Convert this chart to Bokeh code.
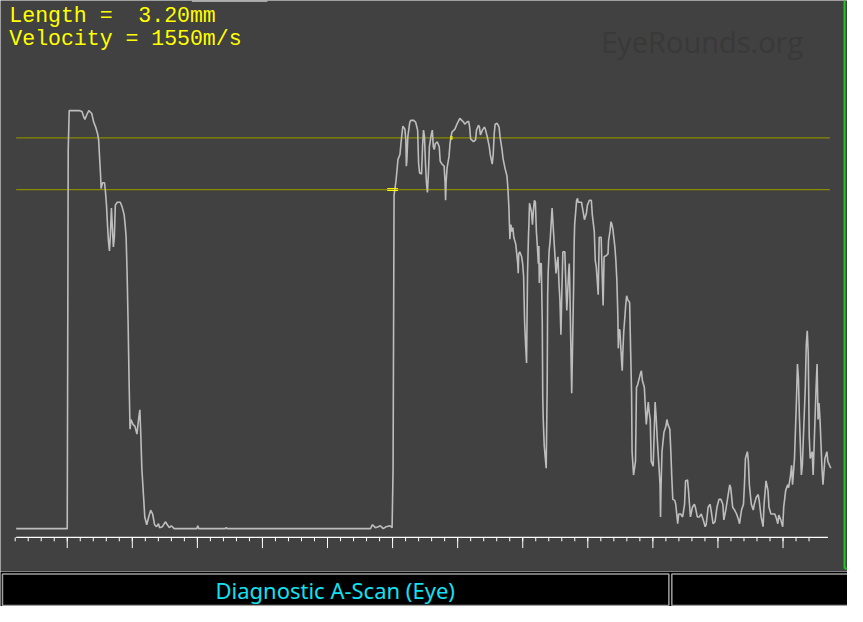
import numpy as np
from bokeh.plotting import figure
from bokeh.models import Range1d, Label, ColumnDataSource
from bokeh.layouts import column
from bokeh.embed import file_html
from bokeh.resources import INLINE

# ---- A-scan trace: sample index vs echo amplitude (counts, 429 = saturation) ----
sample = [0, 51, 52, 53, 54, 64, 67, 69, 70, 72, 74, 77, 79, 81, 83, 84, 85, 86, 86.5, 88, 90, 91, 92, 93, 94, 95, 96, 97, 98, 99,
          100, 101, 103, 106, 108, 110, 111, 112, 113, 114, 115, 116, 117, 119, 121, 123, 125, 126, 127, 128, 130, 131, 133, 135, 137, 139, 141, 143, 145, 146,
          149, 152, 154, 156, 158, 161, 184, 185, 186, 213, 214, 215, 361, 363, 366, 369, 371, 374, 377, 381, 383, 384, 385, 387, 389, 391, 392, 393, 394, 396,
          397, 397.5, 398, 399, 401, 402, 405, 407, 409, 410, 411, 413, 414, 415, 416, 417, 418, 419, 420, 421, 423, 424, 425, 426, 427, 429, 431, 432, 434, 436,
          437, 437.5, 438, 439, 441, 442, 443, 444, 446, 447, 449, 451, 452, 454, 456, 457, 459, 461, 462, 463, 466, 468, 469, 471, 472, 473, 475, 477, 478, 480,
          482, 483, 485, 486, 487, 488, 490, 492, 493, 495, 496, 498, 500, 501, 502, 503, 504, 505, 506, 507, 509, 511, 511.5, 512, 513, 515, 516, 517, 517.5, 518,
          519, 520, 521, 522, 522.5, 523, 525, 526, 527, 528, 529, 530, 531, 532, 532.5, 533, 534, 535, 536, 536.5, 537, 538, 540, 541, 541.5, 542, 543, 544, 545, 546,
          547, 549, 550, 551, 552, 553, 554, 555, 556, 557, 559, 560, 561, 562, 563, 563.5, 564, 565, 566, 567, 568, 568.5, 569, 571, 572, 572.5, 574, 576, 577, 579,
          581, 582, 584, 586, 587, 589, 590, 591, 592, 593, 594, 595, 596, 597, 598, 599, 601, 603, 603.5, 605, 606, 607, 608, 610, 611, 612, 613, 613.5, 614, 615,
          617, 617.5, 618, 619, 620, 621, 622, 623, 625, 626, 627, 627.5, 629, 631, 632, 633, 636, 637, 638, 640, 641, 642, 643, 644, 645, 646, 647, 649, 651, 652,
          653, 655, 656, 656.5, 657, 658, 660, 662, 663, 664, 666, 667, 668, 669, 671, 672, 674, 675, 677, 679, 681, 682, 684, 685, 686, 687, 689, 691, 692, 694,
          696, 698, 700, 702, 703, 705, 707, 708, 710, 712, 714, 716, 718, 720, 721, 723, 725, 727, 728, 730, 732, 734, 736, 737, 739, 741, 742, 743, 745, 746,
          747, 749, 751, 752, 754, 756, 757, 759, 761, 762, 764, 766, 767, 769, 771, 773, 775, 776, 777, 779, 781, 782, 784, 786, 787, 789, 790, 791, 793, 794,
          795, 796, 797, 798, 800, 801, 802, 804, 805, 806, 807, 808, 809, 811, 812, 813, 815, 816, 817, 818, 819, 821, 822, 824, 826, 827, 830]
amplitude = [0, 0, 0, 389, 429, 429, 428, 422, 420, 425, 429, 426, 417, 412, 405, 399, 380, 362, 349, 355, 355, 345, 332, 312, 295, 285, 302, 329, 309, 289,
             299, 332, 335, 335, 330, 322, 312, 299, 262, 212, 152, 102, 112, 107, 105, 97, 115, 122, 95, 62, 29, 12, 4, 12, 19, 15, 4, 2, 5, 1,
             2, 7, 4, 1, 3, 0, 0, 3, 0, 0, 1, 0, 0, 4, 1, 2, 3, 0, 2, 3, 1, 62, 342, 357, 379, 384, 395, 405, 413, 410,
             399, 372, 377, 402, 417, 419, 419, 417, 409, 375, 365, 364, 392, 409, 402, 375, 355, 345, 365, 392, 405, 409, 392, 389, 395, 397, 392, 377, 374, 372,
             355, 337, 355, 370, 382, 395, 402, 407, 409, 410, 415, 419, 421, 419, 417, 415, 417, 418, 412, 400, 397, 399, 409, 414, 412, 404, 409, 412, 410, 402,
             392, 384, 374, 384, 405, 415, 416, 412, 402, 389, 380, 370, 362, 349, 330, 297, 312, 305, 309, 299, 292, 272, 262, 282, 284, 279, 272, 259, 235, 212,
             189, 170, 262, 302, 315, 334, 325, 312, 327, 337, 335, 305, 290, 272, 290, 252, 272, 272, 212, 135, 112, 85, 62, 145, 239, 262, 285, 295, 312, 329,
             312, 279, 262, 272, 279, 252, 235, 199, 245, 284, 284, 252, 224, 245, 265, 272, 252, 195, 139, 195, 252, 292, 312, 337, 339, 335, 335, 335, 329, 317,
             324, 332, 337, 337, 322, 305, 275, 269, 255, 240, 299, 299, 299, 262, 229, 279, 280, 282, 295, 305, 315, 312, 307, 289, 275, 255, 219, 185, 204, 204,
             169, 162, 179, 202, 215, 229, 239, 235, 232, 185, 139, 79, 55, 69, 145, 147, 159, 162, 152, 145, 125, 107, 119, 130, 119, 112, 69, 64, 130, 115,
             95, 62, 45, 12, 42, 79, 99, 105, 112, 107, 102, 79, 52, 30, 29, 25, 5, 15, 15, 12, 25, 49, 50, 39, 25, 12, 22, 25, 22, 12,
             12, 15, 9, 2, 4, 22, 25, 19, 5, 7, 22, 30, 30, 25, 9, 19, 32, 45, 42, 22, 19, 15, 9, 5, 19, 25, 45, 72, 79, 69,
             45, 25, 19, 25, 32, 35, 29, 12, 2, 25, 49, 39, 22, 15, 15, 15, 9, 5, 14, 9, 2, 22, 39, 45, 42, 55, 65, 45, 72, 102,
             132, 169, 154, 115, 55, 65, 92, 145, 189, 203, 179, 95, 72, 79, 55, 85, 145, 169, 112, 129, 112, 62, 45, 72, 79, 69, 62]

# gate levels (counts) and gate start markers
gate_levels = [401, 348]
gate_marker_x0 = [442, 378]
gate_marker_x1 = [445, 389]

# sample axis: major ticks every 66.3 samples, 5 minor divisions
axis_start, axis_end = 0, 827
major_first, major_step, n_major = 52, 66.3, 12

length_text = "Length = \u00a03.20mm"
velocity_text = "Velocity = 1550m/s"
footer_text = "Diagnostic A-Scan (Eye)"
watermark_text = "EyeRounds.org"

BG = "#414141"
p = figure(width=847, height=571, x_range=Range1d(-16, 847), y_range=Range1d(-44, 542),
           toolbar_location=None, output_backend="svg", min_border=0,
           x_axis_location=None, y_axis_location=None,
           background_fill_color=BG, border_fill_color=BG, outline_line_color=None)
p.grid.visible = False

# watermark
p.add_layout(Label(x=596, y=500, text=watermark_text, text_font="Open Sans",
                   text_font_size="29px", text_color="#393939", text_baseline="alphabetic"))

# gate lines
p.segment(x0=[0] * 2, x1=[829] * 2, y0=gate_levels, y1=gate_levels, line_color="#8a8a00", line_width=1.2)

# axis
major = major_first + major_step * np.arange(n_major)
minor = major_first + (major_step / 5) * np.arange(-4, 58)
p.segment(x0=[axis_start], x1=[axis_end], y0=[-9], y1=[-9], line_color="white", line_width=1.2)
p.segment(x0=minor, x1=minor, y0=-9, y1=-13, line_color="white", line_width=1)
p.segment(x0=major, x1=major, y0=-9, y1=-20, line_color="white", line_width=1)

# trace
src = ColumnDataSource(dict(x=sample, y=amplitude))
p.line("x", "y", source=src, line_color="#bdbdbd", line_width=1.6)

# gate markers
p.segment(x0=gate_marker_x0, x1=gate_marker_x1, y0=[402, 349], y1=[402, 349], line_color="#ffff00", line_width=1)
p.segment(x0=gate_marker_x0, x1=gate_marker_x1, y0=[400, 347], y1=[400, 347], line_color="#ffff00", line_width=1)

# top slider line and green edge
p.segment(x0=[179], x1=[256], y0=[541.5], y1=[541.5], line_color="#c8c8c8", line_width=1.5)
p.segment(x0=[844, 844], x1=[844, 847], y0=[542, -41], y1=[-41, -41], line_color="#1ec81e", line_width=2)

# header texts
p.add_layout(Label(x=-7, y=526, text=length_text, text_font="Liberation Mono",
                   text_font_size="21.5px", text_color="#ffff00", text_baseline="alphabetic"))
p.add_layout(Label(x=-7, y=502, text=velocity_text, text_font="Liberation Mono",
                   text_font_size="21.5px", text_color="#ffff00", text_baseline="alphabetic"))

# footer bar
f = figure(width=847, height=35, x_range=Range1d(0, 863), y_range=Range1d(36, 0),
           toolbar_location=None, output_backend="svg", min_border=0,
           x_axis_location=None, y_axis_location=None,
           background_fill_color="black", border_fill_color="black", outline_line_color=None)
f.grid.visible = False
f.quad(left=[2, 684], right=[681, 866], top=[2.5, 2.5], bottom=[35, 35],
       fill_color="black", line_color="#a0a0a0", line_width=1.5)
f.add_layout(Label(x=341, y=19, text=footer_text, text_font="Noto Sans", text_font_size="22px",
                   text_color="#14e1f0", text_align="center", text_baseline="alphabetic"))

layout = column(p, f, spacing=0)
open("out.html", "w").write(file_html(layout, INLINE))
